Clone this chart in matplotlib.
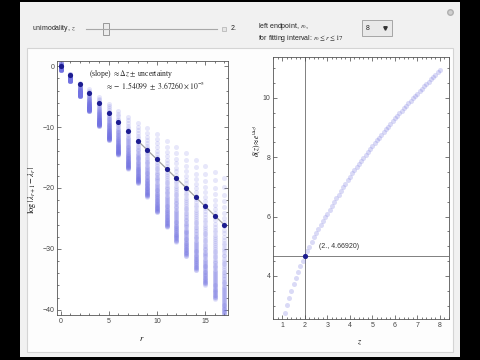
import numpy as np
import matplotlib
matplotlib.use("Agg")
from matplotlib import pyplot as plt
from matplotlib.patches import Rectangle
from matplotlib.lines import Line2D

plt.rcParams['mathtext.fontset'] = 'stix'
plt.rcParams['font.family'] = ['Liberation Sans', 'DejaVu Sans']

# left panel: log|lambda_{r+1} - lambda_r| against r
r_vals = list(range(18))
dark_y = [0, -1.43, -2.96, -4.44, -5.98, -7.6, -9.16, -10.7, -12.2, -13.8,
          -15.3, -16.8, -18.4, -20.0, -21.5, -23.0, -24.6, -26.1]
col_top = [0.75, -1.2, -2.7, -3.8, -5.0, -6.2, -7.35, -8.3, -9.3, -10.2,
           -11.1, -12.3, -13.3, -14.3, -15.4, -16.4, -17.4, -18.3]
col_bottom = [-0.6, -2.4, -4.9, -7.35, -9.8, -12.1, -14.5, -16.8, -19.2, -21.4,
              -24.0, -26.4, -28.8, -31.2, -33.5, -35.9, -38.2, -40.8]
fit_r = [8, 17]
fit_slope = -1.54099
fit_icpt = 0.1

# right panel: delta(z)
z_vals = [1.1, 1.2, 1.3, 1.4, 1.5, 1.6, 1.7, 1.8, 1.9, 2.0,
          2.1, 2.2, 2.3, 2.4, 2.5, 2.6, 2.7, 2.8, 2.9, 3.0,
          3.1, 3.2, 3.3, 3.4, 3.5, 3.6, 3.7, 3.8, 3.9, 4.0,
          4.1, 4.2, 4.3, 4.4, 4.5, 4.6, 4.7, 4.8, 4.9, 5.0,
          5.1, 5.2, 5.3, 5.4, 5.5, 5.6, 5.7, 5.8, 5.9, 6.0,
          6.1, 6.2, 6.3, 6.4, 6.5, 6.6, 6.7, 6.8, 6.9, 7.0,
          7.1, 7.2, 7.3, 7.4, 7.5, 7.6, 7.7, 7.8, 7.9, 8.0]
delta_vals = [2.76, 3.02, 3.27, 3.50, 3.72, 3.93, 4.13, 4.32, 4.50, 4.669,
              4.83, 4.99, 5.15, 5.30, 5.44, 5.58, 5.72, 5.85, 5.98, 6.10,
              6.23, 6.36, 6.49, 6.61, 6.74, 6.86, 6.98, 7.10, 7.22, 7.34,
              7.45, 7.56, 7.66, 7.77, 7.87, 7.97, 8.07, 8.17, 8.27, 8.37,
              8.47, 8.56, 8.66, 8.75, 8.84, 8.93, 9.03, 9.12, 9.21, 9.30,
              9.39, 9.47, 9.56, 9.64, 9.73, 9.81, 9.90, 9.98, 10.06, 10.14,
              10.22, 10.30, 10.38, 10.46, 10.54, 10.62, 10.70, 10.78, 10.86, 10.94]
sel_z = 2.0
sel_delta = 4.66920

W, H = 480, 360


def fx(x):
    return x / W


def fy(y):
    return 1 - y / H


def box(x0, y0, x1, y1, **kw):
    return Rectangle((fx(x0), fy(y1)), (x1 - x0) / W, (y1 - y0) / H,
                     transform=fig.transFigure, **kw)


fig = plt.figure(figsize=(4.8, 3.6), dpi=100)
fig.patch.set_facecolor('black')

# panel backgrounds
fig.add_artist(box(20, 2, 460, 357, facecolor='#f1f1f1', edgecolor='none', zorder=-3))
fig.add_artist(box(27, 48, 453, 352, facecolor='#fdfdfd', edgecolor='#d4d4d4', lw=0.8, zorder=-2))

# controls
ctl = dict(fontsize=5, color='#222222', va='center', ha='left')
fig.text(fx(32), fy(29), 'unimodality, $z$', **ctl)
fig.add_artist(Line2D([fx(86), fx(217)], [fy(29), fy(29)], transform=fig.transFigure,
                      color='#a8a8a8', lw=0.8))
fig.add_artist(box(103, 23, 109, 35, facecolor='#ececec', edgecolor='#8a8a8a', lw=0.6))
fig.add_artist(box(222, 27, 226, 31, facecolor='#e6e6e6', edgecolor='#b0b0b0', lw=0.5))
fig.text(fx(231), fy(29), '2.', **ctl)
fig.text(fx(258), fy(26.5), 'left endpoint, $r_0$,', **ctl)
fig.text(fx(258), fy(38.5), r'for fitting interval: $r_0 \leq r \leq 17$', **ctl)
fig.add_artist(box(362, 20, 392, 36, facecolor='#e9e9e9', edgecolor='#9a9a9a', lw=0.6))
fig.text(fx(366), fy(28), '8', **ctl)
fig.add_artist(Line2D([fx(385)], [fy(28)], transform=fig.transFigure, marker='v',
                      markersize=2.5, color='#333333', lw=0))
fig.add_artist(Line2D([fx(450)], [fy(12)], transform=fig.transFigure, marker='o',
                      markersize=4, mfc='#d0d0d0', mec='#b0b0b0', lw=0))

tick_kw = dict(direction='in', colors='#444444', labelcolor='#444444', labelsize=5,
               top=True, right=True, width=0.5)


def style(ax):
    ax.set_facecolor('white')
    for s in ax.spines.values():
        s.set_color('#555555')
        s.set_linewidth(0.6)
    ax.tick_params(which='major', length=3, pad=2, **tick_kw)
    ax.tick_params(which='minor', length=1.5, **tick_kw)
    ax.tick_params(labeltop=False, labelright=False)


# left plot
ax1 = fig.add_axes([fx(57.3), fy(315), (228 - 57.3) / W, (315 - 60.5) / H])
style(ax1)
log_d = np.log(delta_vals)
frac = (log_d - log_d[0]) / (log_d[-1] - log_d[0])
for r, top, bot in zip(r_vals, col_top, col_bottom):
    ys = top + frac * (bot - top)
    ax1.scatter(np.full(len(ys), r), ys, s=13, color='#7272e2', alpha=0.17,
                linewidths=0, zorder=2)
fr = np.array(fit_r)
ax1.plot(fr, fit_icpt + fit_slope * fr, color='#a0a0a0', lw=0.9, zorder=3)
ax1.scatter(r_vals, dark_y, s=14, color='#1c1c90', linewidths=0, zorder=4)
ax1.set_xlim(-0.34, 17.37)
ax1.set_ylim(-40.87, 0.95)
ax1.set_xticks([0, 5, 10, 15])
ax1.set_xticks(range(0, 18), minor=True)
ax1.set_yticks([0, -10, -20, -30, -40])
ax1.set_yticks(range(-40, 1, 2), minor=True)
ax1.set_xlabel('$r$', fontsize=6)
ax1.xaxis.set_label_coords(0.496, -0.079)
ax1.set_ylabel(r'$\log\,|\lambda_{r+1}-\lambda_r\,|$', fontsize=6)
ax1.yaxis.set_label_coords(-0.115, 0.49)
ax1.text(0.432, 0.947, r'(slope) $\approx \Delta z$ $\pm$ uncertainty', transform=ax1.transAxes,
         ha='center', va='center', fontsize=5.5, family='Liberation Serif', color='#222222')
ax1.text(0.572, 0.90, r'$\approx -\ 1.54099\ \pm\ 3.67260\times10^{-5}$', transform=ax1.transAxes,
         ha='center', va='center', fontsize=5.5, color='#222222')

# right plot
ax2 = fig.add_axes([fx(273.3), fy(319.3), (449 - 273.3) / W, (319.3 - 57) / H])
style(ax2)
ax2.axvline(sel_z, color='#808080', lw=0.7, zorder=1)
ax2.axhline(sel_delta, color='#808080', lw=0.7, zorder=1)
ax2.scatter(z_vals, delta_vals, s=13, color='#7a7ae0', alpha=0.28, linewidths=0, zorder=2)
ax2.scatter([sel_z], [sel_delta], s=14, color='#1c1c90', linewidths=0, zorder=4)
ax2.text(2.65, 4.99, '(2., 4.66920)', fontsize=5, color='#333333', ha='left', va='center')
ax2.set_xlim(0.6, 8.41)
ax2.set_ylim(2.54, 11.37)
ax2.set_xticks(range(1, 9))
ax2.set_xticks(np.arange(0.6, 8.41, 0.2), minor=True)
ax2.set_yticks([4, 6, 8, 10])
ax2.set_yticks(np.arange(3.0, 11.4, 0.5), minor=True)
ax2.set_xlabel('$z$', fontsize=6)
ax2.xaxis.set_label_coords(0.493, -0.075)
ax2.set_ylabel(r'$\delta(z)\approx e^{|\Delta z|}$', fontsize=5.5)
ax2.yaxis.set_label_coords(-0.06, 0.68)

fig.savefig('out.png', dpi=100, facecolor=fig.get_facecolor())
